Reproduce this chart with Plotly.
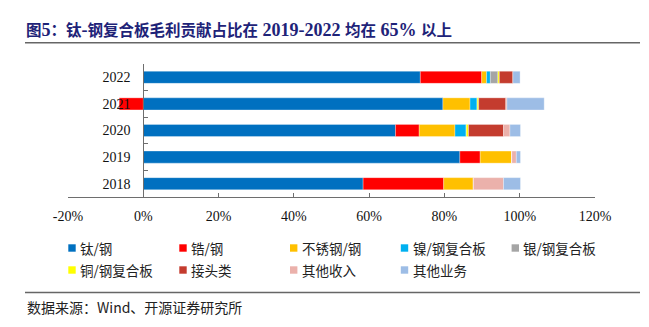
import plotly.graph_objects as go

# Years (category axis, bottom to top)
years = ["2018", "2019", "2020", "2021", "2022"]

# Gross-profit contribution share by product line (%)
ti_steel = [58.4, 84.1, 67.0, 79.6, 73.6]        # 钛/钢
zr_steel = [21.4, 5.4, 6.3, -6.4, 16.3]          # 锆/钢
ss_steel = [7.9, 8.4, 9.5, 7.2, 1.3]             # 不锈钢/钢
ni_steel = [0.0, 0.0, 3.0, 1.9, 1.0]             # 镍/钢复合板
ag_steel = [0.0, 0.0, 0.0, 0.0, 2.0]             # 银/钢复合板
cu_steel = [0.0, 0.0, 0.6, 0.4, 0.4]             # 铜/钢复合板
joints = [0.0, 0.0, 9.3, 7.2, 3.6]               # 接头类
other_income = [8.0, 1.2, 1.7, 0.3, 0.0]         # 其他收入
other_business = [4.5, 1.1, 2.8, 9.9, 1.9]       # 其他业务

series_names = ["钛/钢", "锆/钢", "不锈钢/钢", "镍/钢复合板", "银/钢复合板",
                "铜/钢复合板", "接头类", "其他收入", "其他业务"]
series_values = [ti_steel, zr_steel, ss_steel, ni_steel, ag_steel,
                 cu_steel, joints, other_income, other_business]
series_colors = ["#0070C0", "#FF0000", "#FFC000", "#00B0F0", "#A5A5A5",
                 "#FFFF00", "#C43C2E", "#EBB1AB", "#9DBDE6"]

x_ticks = [-20, 0, 20, 40, 60, 80, 100, 120]

W, H = 649, 327
ML, MR, MT, MB = 68, 54, 64, 130
PW, PH = W - ML - MR, H - MT - MB


def px_x(x):
    return (x - ML) / PW


def px_y(y):
    return (H - MB - y) / PH


SERIF = "Liberation Serif, Noto Sans CJK SC, serif"
CJK = "Noto Sans CJK SC, Liberation Serif, sans-serif"

fig = go.Figure()
for name, vals, col in zip(series_names, series_values, series_colors):
    fig.add_trace(go.Bar(
        y=years, x=vals, name=name, orientation="h", showlegend=False,
        marker=dict(color=col, line=dict(color="rgba(255,255,255,0.6)", width=0.5)),
    ))

# Key below the plot: two rows of square swatches with labels
key_cols = [72, 183, 293.7, 404.5, 515.3]
key_rows = [248, 270]
shapes = []
annotations = []
for i, (name, col) in enumerate(zip(series_names, series_colors)):
    cx = key_cols[i % 5]
    cy = key_rows[i // 5]
    shapes.append(dict(
        type="rect", xref="paper", yref="paper",
        x0=px_x(cx - 3.7), x1=px_x(cx + 3.7), y0=px_y(cy + 3.7), y1=px_y(cy - 3.7),
        fillcolor=col, line=dict(width=0),
    ))
    annotations.append(dict(
        text=name, xref="paper", yref="paper",
        x=px_x(cx + 6), y=px_y(cy), xanchor="left", yanchor="middle",
        showarrow=False, font=dict(family=CJK, size=13.5, color="#222222"),
    ))

# Rules above and below the chart body
for yy in (42.7, 292.5):
    shapes.append(dict(
        type="line", xref="paper", yref="paper",
        x0=px_x(25), x1=px_x(640), y0=px_y(yy), y1=px_y(yy),
        line=dict(color="#666666", width=1.6),
    ))

annotations.append(dict(
    text="数据来源：Wind、开源证券研究所", xref="paper", yref="paper",
    x=px_x(25), y=px_y(307), xanchor="left", yanchor="middle",
    showarrow=False, font=dict(family=CJK, size=14, color="#222222"),
))

big = '<span style="font-size:18px">'
title_text = (f"<b>图{big}5</span>：钛{big}-</span>钢复合板毛利贡献占比在"
              f"{big} 2019-2022 </span>均在{big} 65% </span>以上</b>")

fig.update_layout(
    width=W, height=H,
    margin=dict(l=ML, r=MR, t=MT, b=MB),
    paper_bgcolor="white", plot_bgcolor="white",
    barmode="relative", bargap=0.545,
    showlegend=False,
    title=dict(
        text=title_text,
        xref="container", yref="container",
        x=26 / W, xanchor="left", y=1 - 30.7 / H, yanchor="middle",
        font=dict(family=SERIF, size=15.5, color="#1E2378"),
    ),
    xaxis=dict(
        range=[-20, 120], tickvals=x_ticks,
        ticktext=[f"{v}%" for v in x_ticks],
        showgrid=False, zeroline=False,
        showline=True, linecolor="#6E6E6E", linewidth=1,
        ticks="inside", ticklen=4, tickcolor="#6E6E6E",
        tickfont=dict(family=SERIF, size=14, color="#111111"),
        ticklabelstandoff=6,
    ),
    yaxis=dict(
        type="category", categoryorder="array", categoryarray=years,
        anchor="free", position=20 / 140,
        showgrid=False, zeroline=False,
        showline=True, linecolor="#6E6E6E", linewidth=1,
        ticks="inside", ticklen=4, tickcolor="#6E6E6E", tickson="boundaries",
        tickfont=dict(family=SERIF, size=14, color="#111111"),
        ticklabelstandoff=10,
    ),
    shapes=shapes,
    annotations=annotations,
)

fig.write_html("out.html")
